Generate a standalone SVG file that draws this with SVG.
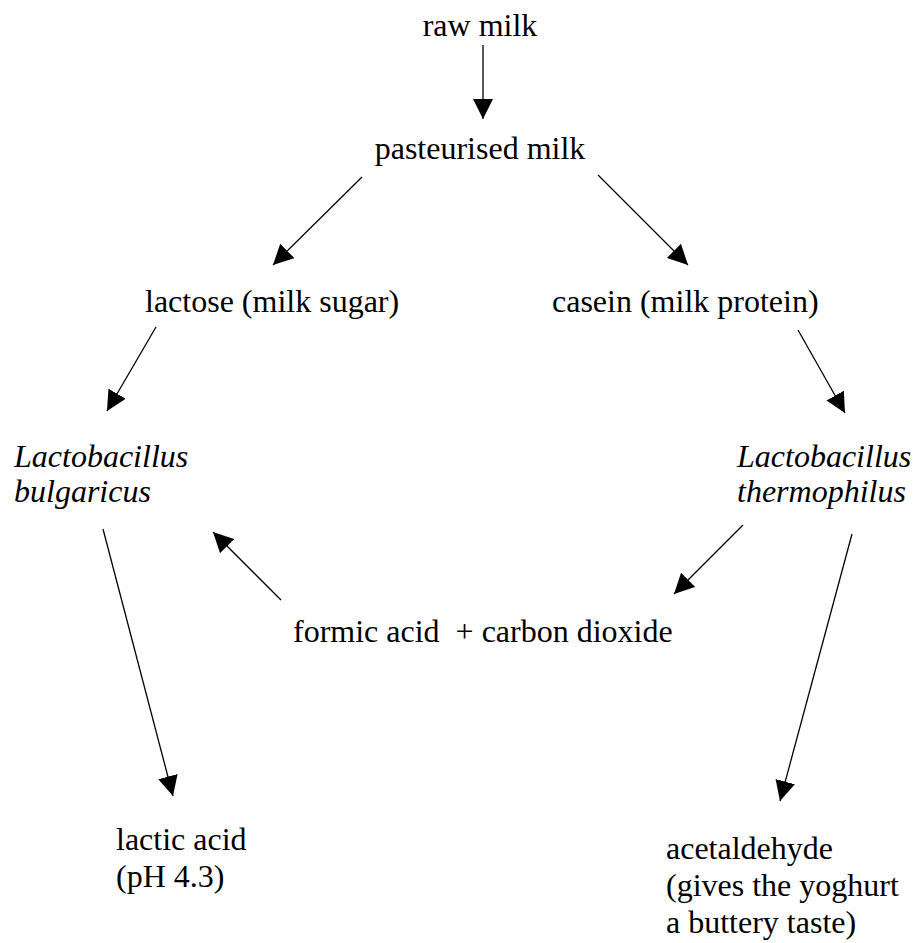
<svg xmlns="http://www.w3.org/2000/svg" width="913" height="943" viewBox="0 0 913 943">
<defs>
<marker id="ah" markerUnits="userSpaceOnUse" markerWidth="20" markerHeight="20" refX="20" refY="10" orient="auto">
<path d="M0,0 L20,10 L0,20 z" fill="#000"/>
</marker>
<style>
.c { stroke: #000; stroke-width: 1.3; fill: none; marker-end: url(#ah); }
</style>
</defs>
<rect width="913" height="943" fill="#fff"/>
<g id="connectors">
<line class="c" x1="483" y1="45" x2="483" y2="119"/>
<line class="c" x1="362" y1="177" x2="273" y2="265"/>
<line class="c" x1="598" y1="175" x2="688" y2="265"/>
<line class="c" x1="156" y1="327" x2="107" y2="411"/>
<line class="c" x1="798" y1="330" x2="845" y2="413"/>
<line class="c" x1="281" y1="600" x2="213" y2="532"/>
<line class="c" x1="743" y1="525" x2="674" y2="594"/>
<line class="c" x1="103" y1="529" x2="173" y2="796"/>
<line class="c" x1="852" y1="534" x2="780" y2="801"/>
</g>
<g font-family="Liberation Serif, DejaVu Serif, serif" font-size="32" fill="#000">
<g id="raw-milk"><text x="480" y="36" text-anchor="middle">raw milk</text></g>
<g id="pasteurised-milk"><text x="480" y="159" text-anchor="middle">pasteurised milk</text></g>
<g id="lactose"><text x="145" y="312">lactose (milk sugar)</text></g>
<g id="casein"><text x="552" y="312">casein (milk protein)</text></g>
<g id="bulgaricus" font-style="italic"><text x="14" y="467">Lactobacillus</text><text x="14" y="502">bulgaricus</text></g>
<g id="thermophilus" font-style="italic"><text x="737" y="467">Lactobacillus</text><text x="737" y="502">thermophilus</text></g>
<g id="formic"><text x="293" y="642" xml:space="preserve">formic acid  + carbon dioxide</text></g>
<g id="lactic"><text x="116" y="850">lactic acid</text><text x="116" y="887">(pH 4.3)</text></g>
<g id="acetaldehyde"><text x="666" y="859">acetaldehyde</text><text x="666" y="896">(gives the yoghurt</text><text x="666" y="933">a buttery taste)</text></g>
</g>
</svg>
